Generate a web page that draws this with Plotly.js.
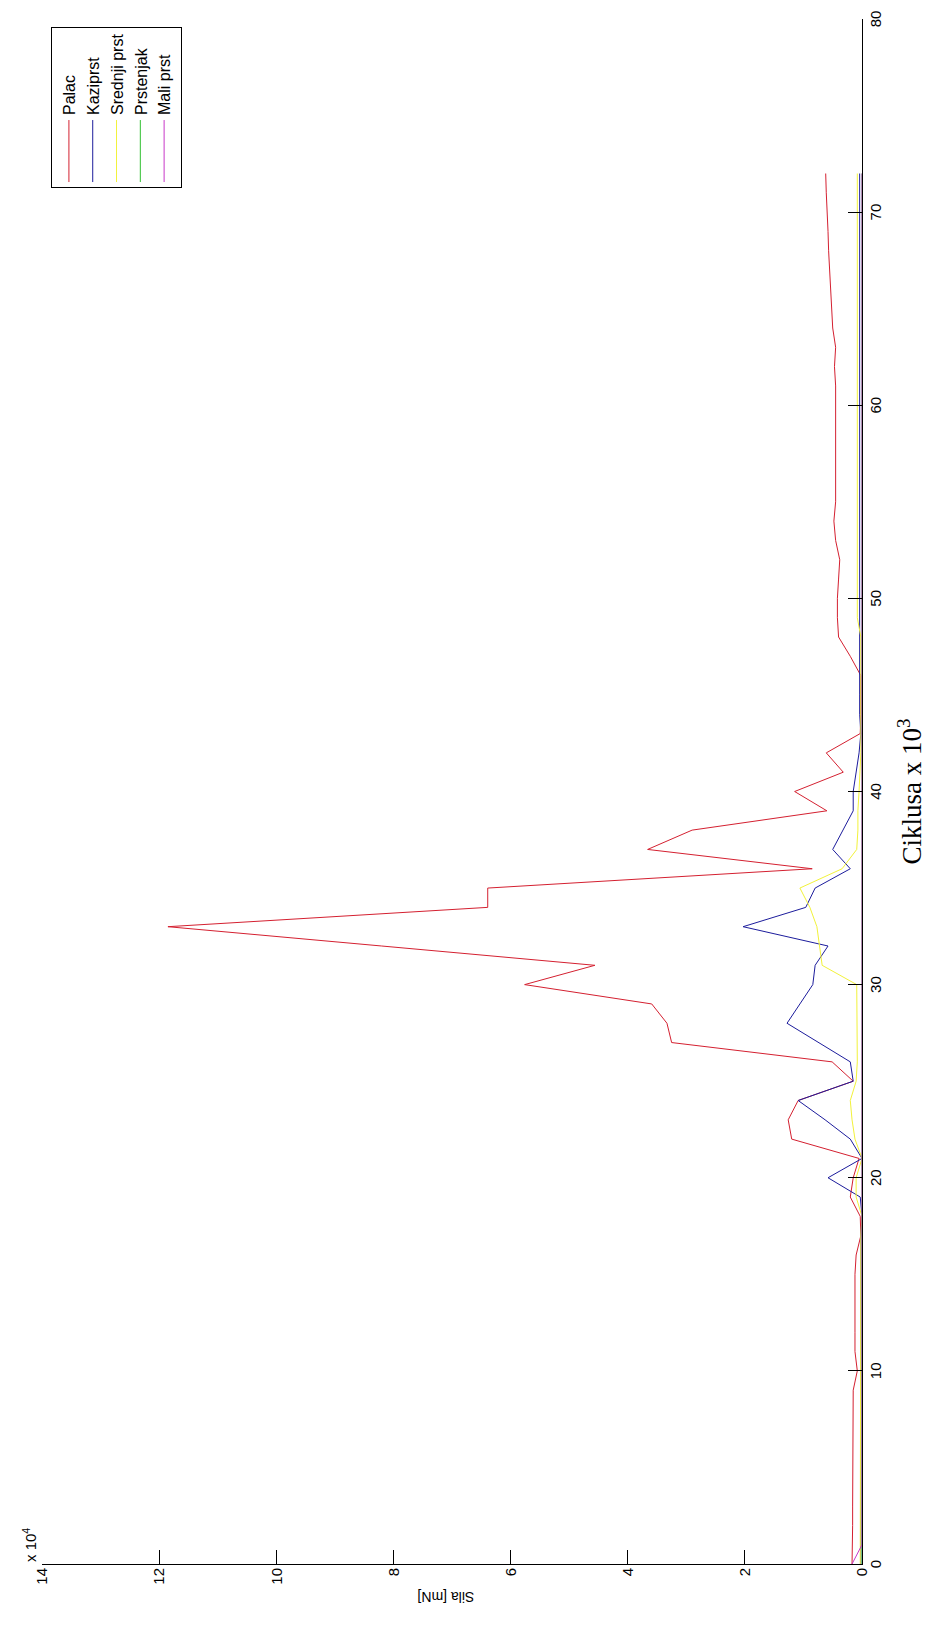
<!DOCTYPE html>
<html>
<head>
<meta charset="utf-8">
<script src="https://cdn.plot.ly/plotly-3.0.1.min.js"></script>
<style>
  html, body { margin: 0; padding: 0; background: #ffffff; width: 927px; height: 1625px; overflow: hidden; }
  #chart { position: absolute; left: 0; top: 0; width: 1625px; height: 927px;
           transform-origin: 0 0; transform: translateY(1625px) rotate(-90deg); }
</style>
</head>
<body>
<div id="chart"></div>
<script>
// Cycles (x 10^3)
var cycles = [0,1,2,3,4,5,6,7,8,9,10,11,12,13,14,15,16,17,18,19,20,21,22,23,24,25,26,27,28,29,30,31,32,33,34,35,36,37,38,39,40,41,42,43,44,45,46,47,48,49,50,51,52,53,54,55,56,57,58,59,60,61,62,63,64,65,66,67,68,69,70,71,72];

// Force (x 10^4 mN)
var palac = [0.17,0.16,0.16,0.16,0.16,0.16,0.16,0.16,0.16,0.15,0.08,0.12,0.12,0.12,0.12,0.12,0.10,0.02,0.03,0.20,0.15,0.05,1.20,1.26,1.09,0.15,0.51,3.25,3.33,3.59,5.76,4.56,8.20,11.85,6.39,6.39,0.85,3.66,2.90,0.60,1.15,0.32,0.61,0.03,0.02,0.02,0.02,0.20,0.40,0.42,0.42,0.40,0.38,0.45,0.48,0.45,0.45,0.45,0.45,0.45,0.45,0.45,0.47,0.45,0.50,0.52,0.53,0.55,0.57,0.58,0.60,0.61,0.62];
var kaziprst = [0.02,0.02,0.02,0.02,0.02,0.02,0.02,0.02,0.02,0.02,0.02,0.02,0.02,0.02,0.02,0.02,0.02,0.02,0.00,0.03,0.58,0.00,0.20,0.63,1.09,0.15,0.20,0.74,1.28,1.06,0.84,0.80,0.58,2.03,0.96,0.80,0.20,0.50,0.32,0.15,0.15,0.10,0.05,0.02,0.04,0.04,0.04,0.04,0.04,0.04,0.04,0.04,0.04,0.04,0.04,0.04,0.04,0.04,0.04,0.04,0.04,0.04,0.04,0.04,0.04,0.04,0.04,0.04,0.04,0.04,0.04,0.04,0.04];
var srednjiPrst = [0.03,0.03,0.03,0.03,0.03,0.03,0.03,0.03,0.03,0.03,0.03,0.03,0.03,0.03,0.03,0.03,0.03,0.02,0.00,0.10,0.10,0.00,0.12,0.17,0.20,0.10,0.08,0.08,0.08,0.08,0.09,0.68,0.72,0.77,0.89,1.06,0.34,0.09,0.07,0.07,0.05,0.03,0.02,0.02,0.02,0.02,0.02,0.02,0.02,0.08,0.08,0.08,0.08,0.08,0.08,0.08,0.08,0.08,0.08,0.08,0.08,0.08,0.08,0.08,0.08,0.08,0.08,0.08,0.08,0.08,0.08,0.08,0.08];
var prstenjak = [0,0,0,0,0,0,0,0,0,0,0,0,0,0,0,0,0,0,0,0,0,0,0,0,0,0,0,0,0,0,0,0,0,0,0,0,0,0,0,0,0,0,0,0,0,0,0,0,0,0,0,0,0,0,0,0,0,0,0,0,0,0,0,0,0,0,0,0,0,0,0,0,0];
var maliPrst = [0.17,0,0,0,0,0,0,0,0,0,0,0,0,0,0,0,0,0,0,0,0,0,0,0,0,0,0,0,0,0,0,0,0,0,0,0,0,0,0,0,0,0,0,0,0,0,0,0,0,0,0,0,0,0,0,0,0,0,0,0,0,0,0,0,0,0,0,0,0,0,0,0,0];

var seriesNames = ['Palac', 'Kaziprst', 'Srednji prst', 'Prstenjak', 'Mali prst'];
var seriesColors = ['#d42030', '#1c1c9c', '#f2f23a', '#30c030', '#c838c8'];
var seriesValues = [palac, kaziprst, srednjiPrst, prstenjak, maliPrst];

var xTickVals = [0,10,20,30,40,50,60,70,80];
var yTickVals = [0,2,4,6,8,10,12,14];

var traces = seriesNames.map(function(name, i) {
  return {
    x: cycles, y: seriesValues[i], name: name, type: 'scatter', mode: 'lines',
    line: {color: seriesColors[i], width: 1}
  };
});

var sans = 'Arial, "Liberation Sans", sans-serif';
var serif = '"Times New Roman", "Liberation Serif", serif';

var layout = {
  width: 1625, height: 927,
  margin: {l: 61, r: 19, t: 42, b: 65},
  paper_bgcolor: '#ffffff', plot_bgcolor: '#ffffff',
  font: {family: sans, size: 15, color: '#000000'},
  showlegend: true,
  legend: {x: 0.9948, y: 0.989, xanchor: 'right', yanchor: 'top',
           bordercolor: '#000000', borderwidth: 1, bgcolor: '#ffffff', itemwidth: 62,
           font: {family: sans, size: 16, color: '#000000'}, tracegroupgap: 0},
  xaxis: {range: [0, 80], tickvals: xTickVals, ticks: 'inside', ticklen: 14, tickwidth: 1,
          tickcolor: '#000000', showline: true, linecolor: '#000000', linewidth: 1,
          showgrid: false, zeroline: false, tickfont: {family: sans, size: 15},
          title: {text: 'Ciklusa x 10<sup>3</sup>', font: {family: serif, size: 27, color: '#000000'}}},
  yaxis: {range: [0, 14], tickvals: yTickVals, ticks: 'inside', ticklen: 14, tickwidth: 1,
          tickcolor: '#000000', showline: true, linecolor: '#000000', linewidth: 1,
          showgrid: false, zeroline: false, tickfont: {family: sans, size: 15}},
  annotations: [
    {text: 'x 10<sup>4</sup>', xref: 'paper', yref: 'paper', x: 0, y: 1,
     xanchor: 'left', yanchor: 'bottom', showarrow: false, yshift: 1,
     font: {family: sans, size: 15, color: '#000000'}},
    {text: 'Sila [mN]', xref: 'paper', yref: 'paper', x: 0, y: 0.507,
     xanchor: 'center', yanchor: 'middle', xshift: -33, textangle: -90, showarrow: false,
     font: {family: sans, size: 14, color: '#000000'}}
  ]
};

Plotly.newPlot('chart', traces, layout, {staticPlot: true, displayModeBar: false});
</script>
</body>
</html>
